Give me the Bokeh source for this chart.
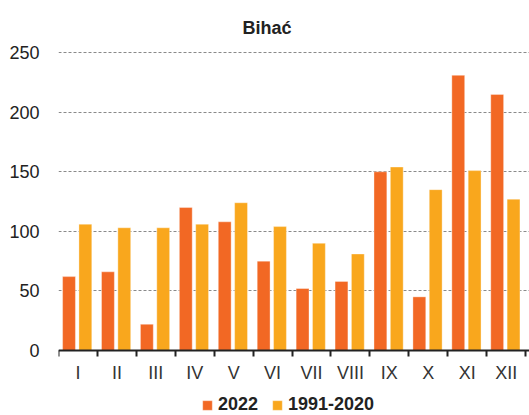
from bokeh.plotting import figure
from bokeh.models import FixedTicker, Legend, LegendItem, ColumnDataSource, Range1d
from bokeh.transform import dodge
from bokeh.embed import file_html
from bokeh.resources import INLINE

months = ["I", "II", "III", "IV", "V", "VI", "VII", "VIII", "IX", "X", "XI", "XII"]
precip_2022 = [62, 66, 22, 120, 108, 75, 52, 58, 150, 45, 231, 215]
precip_normal = [106, 103, 103, 106, 124, 104, 90, 81, 154, 135, 151, 127]
series_names = ["2022", "1991-2020"]
y_ticks = [0, 50, 100, 150, 200, 250]
title_text = "Bihać"

COL_2022 = "#F26824"
COL_NORM = "#F9A71D"
FONT = "Liberation Sans"

centers = [i + 0.5 for i in range(len(months))]
bounds = [float(i) for i in range(len(months) + 1)]

src = ColumnDataSource(dict(x=centers, a=precip_2022, b=precip_normal))

# frame runs to the bottom of the page; the x axis is pinned at y = 0
p = figure(width=529, height=415, output_backend="svg", toolbar_location=None,
           x_range=Range1d(0, 12.1), y_range=Range1d(-54.6, 251),
           min_border_left=58, min_border_right=0, min_border_top=51,
           min_border_bottom=0)

r1 = p.vbar(x=dodge("x", -0.23, range=p.x_range), top="a", width=0.33, source=src,
            fill_color=COL_2022, line_color="#ffffff", line_alpha=0.35, line_width=1)
r2 = p.vbar(x=dodge("x", 0.19, range=p.x_range), top="b", width=0.33, source=src,
            fill_color=COL_NORM, line_color="#ffffff", line_alpha=0.35, line_width=1)

# title
p.title.text = title_text
p.title.text_font = FONT
p.title.text_font_size = "18px"
p.title.text_font_style = "bold"
p.title.text_color = "#222222"
p.title.align = "left"
p.title.offset = 184
p.title.standoff = 28

# x axis
p.xaxis.fixed_location = 0
p.xaxis.ticker = FixedTicker(ticks=centers, minor_ticks=bounds)
p.xaxis.major_label_overrides = {c: m for c, m in zip(centers, months)}
p.xaxis.major_tick_line_color = None
p.xaxis.minor_tick_line_color = "#222222"
p.xaxis.minor_tick_line_width = 2
p.xaxis.minor_tick_out = 6
p.xaxis.minor_tick_in = 0
p.xaxis.axis_line_color = "#222222"
p.xaxis.axis_line_width = 2
p.xaxis.major_label_text_font = FONT
p.xaxis.major_label_text_font_size = "18px"
p.xaxis.major_label_text_color = "#333333"
p.xaxis.major_label_standoff = 7
p.xgrid.visible = False

# y axis
p.yaxis.ticker = FixedTicker(ticks=y_ticks)
p.yaxis.axis_line_color = None
p.yaxis.major_tick_line_color = None
p.yaxis.minor_tick_line_color = None
p.yaxis.major_tick_out = 0
p.yaxis.major_label_standoff = 19
p.yaxis.major_label_text_font = FONT
p.yaxis.major_label_text_font_size = "18px"
p.yaxis.major_label_text_color = "#222222"
p.ygrid.grid_line_color = "#8a8a8a"
p.ygrid.grid_line_dash = "3 2"
p.ygrid.grid_line_width = 1

p.outline_line_color = None

legend = Legend(items=[LegendItem(label=series_names[0], renderers=[r1]),
                       LegendItem(label=series_names[1], renderers=[r2])],
                orientation="horizontal", location=(143, 0),
                border_line_color=None, background_fill_alpha=0,
                label_text_font=FONT, label_text_font_size="18px",
                label_text_font_style="bold", label_text_color="#222222",
                glyph_width=12, glyph_height=12, label_height=18,
                spacing=13, label_standoff=5, padding=0, margin=0)
p.add_layout(legend)

open("out.html", "w").write(file_html(p, INLINE))
